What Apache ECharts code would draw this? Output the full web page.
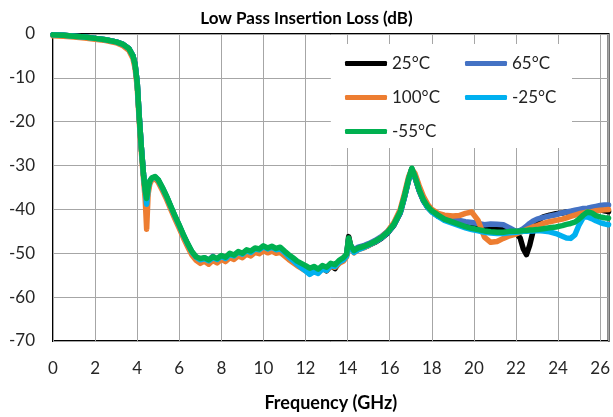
<!DOCTYPE html>
<html>
<head>
<meta charset="utf-8">
<script src="https://cdn.jsdelivr.net/npm/echarts@6/dist/echarts.min.js"></script>
<style>
html,body{margin:0;padding:0;background:#fff;}
#chart{width:613px;height:417px;}
</style>
</head>
<body>
<div id="chart"></div>
<script>
// Frequency (GHz)
const freq = [
  0, 0.5, 1, 1.5, 2, 2.5, 3, 3.3, 3.6, 3.8, 3.9, 4.0, 4.1, 4.2, 4.3,
  4.38, 4.45, 4.52, 4.6, 4.7, 4.85, 5.0, 5.2, 5.4, 5.6, 5.8, 6.0, 6.2, 6.4, 6.6, 6.8,
  7.0, 7.2, 7.4, 7.6, 7.8, 8.0, 8.2, 8.4, 8.6, 8.8, 9.0, 9.2, 9.4, 9.6, 9.8, 10.0, 10.2, 10.4, 10.6, 10.8,
  11.0, 11.2, 11.4, 11.6, 11.8, 12.0, 12.2, 12.4, 12.6, 12.8, 13.0, 13.2, 13.4, 13.6, 13.8,
  13.95, 14.05, 14.15, 14.3, 14.5, 14.8, 15.0, 15.3, 15.6, 15.9, 16.2, 16.5, 16.7, 16.9, 17.05, 17.2, 17.4, 17.6, 17.8, 18.0,
  18.3, 18.6, 19.0, 19.3, 19.6, 19.9, 20.2, 20.5, 20.8, 21.1, 21.4, 21.7, 22.0, 22.2, 22.35, 22.5, 22.65, 22.8, 23.0, 23.3,
  23.6, 23.9, 24.2, 24.4, 24.6, 24.8, 25.0, 25.2, 25.4, 25.6, 25.8, 26.0, 26.2, 26.4
];

// Insertion loss (dB) per temperature
const loss25 = [
  -0.2, -0.3, -0.5, -0.7, -1.0, -1.3, -1.8, -2.3, -3.3, -5.0, -7.0, -11, -19, -26, -32,
  -35.8, -38.0, -35.3, -33.7, -33.0, -32.7, -33.4, -35.2, -37.2, -39.5, -41.7, -43.8, -46.0, -48.0, -49.8, -51.0,
  -51.6, -51.3, -52.2, -51.0, -51.4, -50.8, -51.5, -50.2, -50.7, -49.8, -50.4, -49.5, -49.9, -49.0, -49.4, -48.6, -49.2, -48.7, -49.3, -49.0,
  -49.9, -50.8, -51.5, -52.4, -53.0, -53.7, -54.6, -53.5, -54.2, -53.2, -54.0, -52.8, -53.5, -52.0, -51.3,
  -50.5, -46.2, -48.4, -49.6, -49.0, -48.6, -48.2, -47.5, -46.6, -45.4, -43.6, -40.8, -37.3, -33.3, -30.8, -32.7, -35.7, -38.0, -39.5, -40.5,
  -41.5, -42.2, -42.8, -43.1, -43.4, -43.8, -44.1, -44.3, -44.4, -44.5, -44.6, -44.8, -45.3, -46.5, -49.0, -50.3, -48.2, -45.2, -42.6, -41.7,
  -41.3, -41.0, -40.8, -40.6, -40.5, -40.4, -40.3, -40.2, -40.1, -40.0, -40.0, -40.1, -40.3, -40.5
];
const loss65 = [
  -0.2, -0.3, -0.5, -0.7, -1.0, -1.3, -1.8, -2.3, -3.3, -5.0, -7.0, -11, -19, -26, -32,
  -35.8, -38.5, -35.4, -33.8, -33.0, -32.7, -33.4, -35.2, -37.2, -39.5, -41.7, -43.8, -46.0, -48.0, -49.8, -51.0,
  -51.4, -51.0, -51.6, -50.7, -51.5, -50.6, -51.0, -50.3, -50.5, -49.9, -50.2, -49.6, -49.7, -49.0, -49.3, -48.6, -49.0, -48.8, -49.1, -48.9,
  -49.7, -50.5, -51.2, -52.0, -52.8, -53.4, -54.0, -53.6, -54.0, -53.3, -53.6, -52.6, -53.0, -51.8, -51.2,
  -50.4, -46.8, -48.3, -49.2, -48.6, -48.2, -47.8, -47.1, -46.2, -45.0, -43.2, -40.4, -37.0, -33.1, -30.8, -32.6, -35.6, -37.9, -39.4, -40.4,
  -41.6, -42.0, -42.3, -42.5, -42.8, -43.0, -43.2, -43.5, -43.3, -43.4, -43.5, -44.2, -45.0, -44.8, -44.4, -43.8, -43.2, -42.7, -42.2, -41.8,
  -41.5, -41.2, -40.8, -40.6, -40.4, -40.2, -40.0, -39.8, -39.7, -39.5, -39.3, -39.1, -39.0, -39.0
];
const loss100 = [
  -0.4, -0.5, -0.7, -0.9, -1.2, -1.5, -2.0, -2.6, -3.7, -5.6, -7.8, -12, -20, -27, -33,
  -37.5, -44.5, -36.5, -34.2, -33.2, -33.0, -33.8, -35.7, -37.7, -40.0, -42.2, -44.3, -46.5, -48.5, -50.4, -51.6,
  -52.3, -51.8, -52.5, -51.6, -52.2, -51.4, -51.9, -51.0, -51.4, -50.6, -51.0, -50.2, -50.6, -49.8, -50.1, -49.4, -49.9, -49.5, -50.0, -49.8,
  -50.6, -51.4, -52.1, -52.8, -53.4, -54.0, -54.4, -53.8, -54.3, -53.5, -53.9, -53.0, -53.2, -52.3, -51.8,
  -50.8, -47.2, -48.8, -49.9, -49.2, -48.7, -48.2, -47.4, -46.4, -45.0, -43.0, -40.0, -36.4, -32.5, -30.8, -31.8, -34.6, -37.0, -38.8, -40.0,
  -40.9, -41.3, -41.5, -41.4, -40.9, -40.6, -42.5, -46.3, -47.5, -47.3, -46.6, -46.0, -45.6, -45.2, -44.9, -44.6, -44.3, -44.0, -43.7, -43.2,
  -42.8, -42.5, -42.2, -41.9, -41.6, -41.3, -41.0, -40.8, -40.6, -40.5, -40.3, -40.2, -40.1, -40.0
];
const lossM25 = [
  -0.2, -0.3, -0.5, -0.7, -1.0, -1.3, -1.8, -2.3, -3.3, -5.0, -7.0, -11, -19, -26, -32,
  -35.6, -38.8, -35.2, -33.6, -32.9, -32.6, -33.3, -35.1, -37.1, -39.4, -41.6, -43.7, -45.9, -47.9, -49.7, -50.9,
  -51.5, -51.2, -51.7, -51.0, -51.4, -50.7, -51.2, -50.3, -50.6, -49.8, -50.2, -49.4, -49.8, -49.0, -49.2, -48.5, -49.0, -48.6, -49.2, -49.0,
  -49.8, -50.8, -51.6, -52.5, -53.3, -54.0, -54.8, -54.2, -54.6, -53.6, -53.9, -52.8, -53.0, -52.0, -51.5,
  -50.6, -47.5, -48.8, -49.8, -49.2, -48.6, -48.1, -47.4, -46.5, -45.3, -43.5, -40.7, -37.2, -33.2, -30.8, -32.6, -35.6, -37.9, -39.5, -40.6,
  -41.6, -42.5, -43.2, -43.7, -44.2, -44.6, -44.9, -45.2, -45.4, -45.5, -45.5, -45.3, -45.2, -45.1, -45.0, -45.0, -44.9, -44.9, -44.8, -44.9,
  -45.1, -45.5, -46.1, -46.5, -46.6, -45.8, -43.5, -41.8, -41.7, -42.1, -42.6, -43.0, -43.3, -43.5
];
const lossM55 = [
  -0.2, -0.3, -0.5, -0.7, -1.0, -1.3, -1.8, -2.3, -3.3, -5.0, -7.0, -11, -19, -26, -32,
  -35.5, -37.5, -35.0, -33.5, -32.8, -32.5, -33.2, -35.0, -37.0, -39.3, -41.5, -43.6, -45.8, -47.8, -49.6, -50.8,
  -51.2, -51.0, -51.5, -50.8, -51.2, -50.5, -50.9, -50.0, -50.4, -49.6, -50.0, -49.2, -49.5, -48.8, -49.0, -48.3, -48.8, -48.4, -48.9, -48.6,
  -49.5, -50.3, -51.0, -51.8, -52.3, -52.8, -53.4, -53.0, -53.6, -52.8, -53.2, -52.3, -52.6, -51.6, -51.0,
  -50.2, -46.5, -48.2, -49.4, -48.8, -48.4, -48.0, -47.3, -46.4, -45.2, -43.4, -40.5, -37.0, -33.0, -30.6, -32.5, -35.5, -37.8, -39.3, -40.3,
  -41.3, -42.2, -42.9, -43.4, -43.9, -44.3, -44.6, -44.9, -45.1, -45.2, -45.2, -45.0, -45.0, -44.9, -44.8, -44.8, -44.7, -44.7, -44.6, -44.4,
  -44.2, -44.0, -43.7, -43.4, -43.2, -42.9, -42.2, -41.3, -40.6, -40.8, -41.4, -41.7, -41.9, -42.0
];

const seriesNames = ['25°C', '65°C', '100°C', '-25°C', '-55°C'];
const seriesValues = [loss25, loss65, loss100, lossM25, lossM55];
const seriesColors = ['#000000', '#4472C4', '#ED7D31', '#00B0F0', '#00B050'];

const xTicks = [0, 2, 4, 6, 8, 10, 12, 14, 16, 18, 20, 22, 24, 26];
const titleText = 'Low Pass Insertion Loss (dB)';
const xAxisTitle = 'Frequency (GHz)';

const FONT = 'Lato, "Open Sans", sans-serif';

const chart = echarts.init(document.getElementById('chart'), null, {renderer: 'canvas'});

const series = seriesNames.map((name, k) => ({
  name: name,
  type: 'line',
  showSymbol: false,
  symbol: 'none',
  smooth: false,
  animation: false,
  z: 2 + k,
  lineStyle: {width: 5.5, color: seriesColors[k], cap: 'round', join: 'round'},
  itemStyle: {color: seriesColors[k]},
  data: freq.map((f, i) => [f, seriesValues[k][i]])
}));

const legendCommon = {
  orient: 'vertical',
  top: 50,
  itemWidth: 42,
  itemHeight: 5,
  itemGap: 17,
  icon: 'roundRect',
  textStyle: {fontFamily: FONT, fontSize: 17, color: '#222'},
  z: 10
};

chart.setOption({
  animation: false,
  backgroundColor: '#ffffff',
  title: {
    text: titleText,
    left: 'center',
    top: 5,
    textStyle: {fontFamily: FONT, fontSize: 17, fontWeight: 'bold', color: '#000'}
  },
  legend: [
    Object.assign({}, legendCommon, {left: 340, data: ['25°C', '100°C', '-55°C']}),
    Object.assign({}, legendCommon, {left: 460, data: ['65°C', '-25°C']})
  ],
  graphic: [{
    type: 'rect',
    z: 1,
    shape: {x: 331, y: 44, width: 241, height: 104},
    style: {fill: '#ffffff'}
  }],
  grid: {
    left: 53, right: 4, top: 34, bottom: 75.5,
    show: true, borderColor: '#000', borderWidth: 2, backgroundColor: 'transparent'
  },
  xAxis: {
    type: 'value',
    min: 0, max: 26.4, interval: 2,
    name: xAxisTitle,
    nameLocation: 'middle',
    nameGap: 53,
    nameTextStyle: {fontFamily: FONT, fontSize: 18, fontWeight: 'bold', color: '#000'},
    axisLine: {show: false},
    axisTick: {show: false},
    axisLabel: {
      fontFamily: FONT, fontSize: 17, color: '#262626', margin: 19,
      formatter: v => (xTicks.indexOf(v) >= 0 ? String(v) : '')
    },
    splitLine: {show: true, lineStyle: {color: '#A6A6A6', width: 1}}
  },
  yAxis: {
    type: 'value',
    min: -70, max: 0, interval: 10,
    axisLine: {show: false},
    axisTick: {show: false},
    axisLabel: {fontFamily: FONT, fontSize: 17, color: '#262626', margin: 18},
    splitLine: {show: true, lineStyle: {color: '#A6A6A6', width: 1}}
  },
  series: series
});
</script>
</body>
</html>
